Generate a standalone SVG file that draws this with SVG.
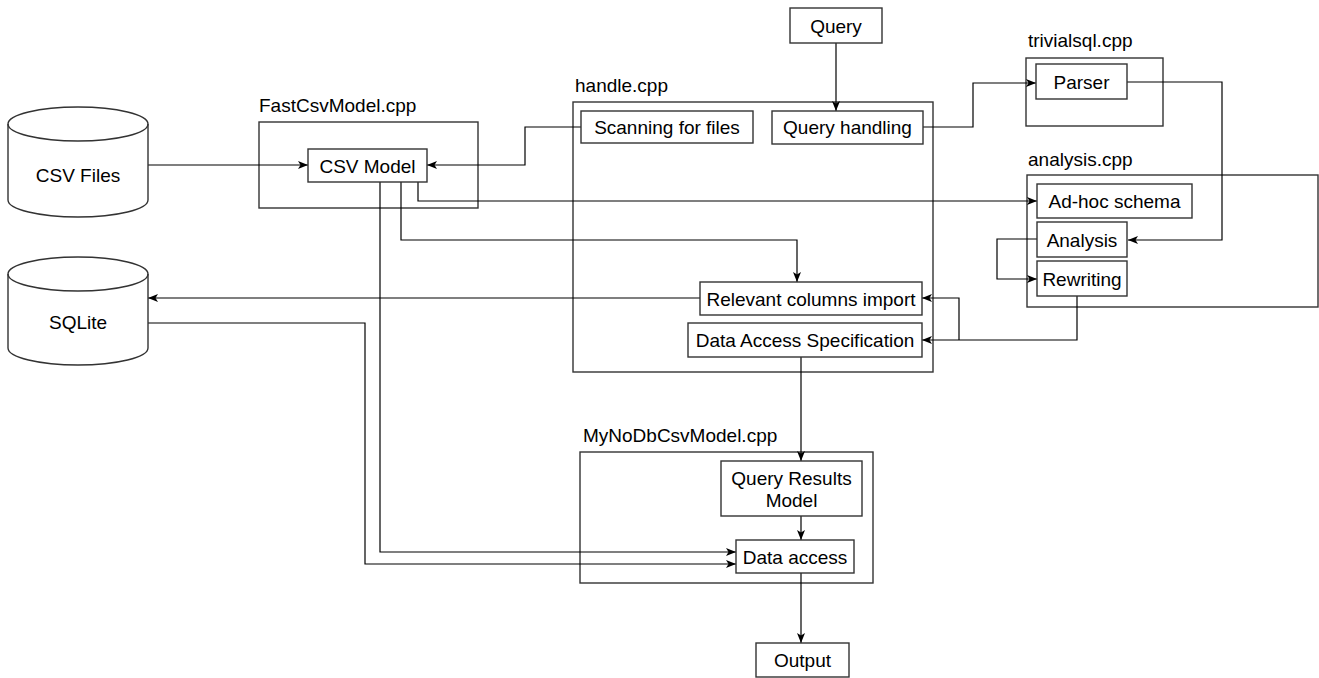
<svg xmlns="http://www.w3.org/2000/svg" width="1319" height="678" viewBox="0 0 1319 678">
<style>
text{font-family:"Liberation Sans",Arial,sans-serif;font-size:19px;fill:#000}
.c{text-anchor:middle}
.box{fill:#fff;stroke:#333;stroke-width:1.4}
.grp{fill:none;stroke:#333;stroke-width:1.4}
.edge{fill:none;stroke:#000;stroke-width:1.2}
.arr{marker-end:url(#ah)}
</style>
<defs>
<marker id="ah" viewBox="0 0 10 8" refX="10" refY="4" markerWidth="10" markerHeight="8" markerUnits="userSpaceOnUse" orient="auto">
<path d="M0,0 L10,4 L0,8 L2.5,4 Z" fill="#000"/>
</marker>
</defs>
<rect width="1319" height="678" fill="#fff"/>

<g id="fastcsvmodel-cpp">
<rect class="grp" x="259" y="122" width="219" height="86"/>
<text x="259" y="112">FastCsvModel.cpp</text>
</g>
<g id="handle-cpp">
<rect class="grp" x="573" y="102" width="360" height="270"/>
<text x="575" y="92">handle.cpp</text>
</g>
<g id="trivialsql-cpp">
<rect class="grp" x="1026" y="58" width="137" height="68"/>
<text x="1028" y="47">trivialsql.cpp</text>
</g>
<g id="analysis-cpp">
<rect class="grp" x="1027" y="175" width="291" height="132"/>
<text x="1028" y="166">analysis.cpp</text>
</g>
<g id="mynodbcsvmodel-cpp">
<rect class="grp" x="580" y="452" width="293" height="131"/>
<text x="583" y="442">MyNoDbCsvModel.cpp</text>
</g>

<g id="edges">
<path class="edge arr" d="M148,165 H308"/>
<path class="edge arr" d="M581,127 H525 V165 H427"/>
<path class="edge arr" d="M836,43 V111"/>
<path class="edge arr" d="M923,127 H973 V83 H1036"/>
<path class="edge arr" d="M418,182 V201 H1037"/>
<path class="edge arr" d="M401,182 V240 H797 V282"/>
<path class="edge arr" d="M1127,82 H1222 V240 H1128"/>
<path class="edge arr" d="M1037,239 H997 V279 H1037"/>
<path class="edge arr" d="M1077,296 V340 H922"/>
<path class="edge arr" d="M959,340 V298 H922"/>
<path class="edge arr" d="M700,298 H148"/>
<path class="edge arr" d="M148,323 H365 V564 H736"/>
<path class="edge arr" d="M380,182 V552 H736"/>
<path class="edge arr" d="M801,357 V461"/>
<path class="edge arr" d="M801,516 V540"/>
<path class="edge arr" d="M801,573 V643"/>
</g>

<g id="csv-files">
<path class="box" d="M8,124 A70,17 0 0 1 148,124 V200 A70,17 0 0 1 8,200 Z"/>
<path class="grp" d="M8,124 A70,17 0 0 0 148,124"/>
<text class="c" x="78" y="182">CSV Files</text>
</g>
<g id="sqlite">
<path class="box" d="M8,274 A70,17 0 0 1 148,274 V348 A70,17 0 0 1 8,348 Z"/>
<path class="grp" d="M8,274 A70,17 0 0 0 148,274"/>
<text class="c" x="78" y="329">SQLite</text>
</g>
<g id="csv-model">
<rect class="box" x="308" y="149" width="119" height="33"/>
<text class="c" x="367.5" y="172.5">CSV Model</text>
</g>
<g id="query">
<rect class="box" x="790" y="8" width="92" height="35"/>
<text class="c" x="836" y="32.5">Query</text>
</g>
<g id="scanning">
<rect class="box" x="581" y="111" width="172" height="32"/>
<text class="c" x="667" y="134">Scanning for files</text>
</g>
<g id="query-handling">
<rect class="box" x="772" y="111" width="151" height="33"/>
<text class="c" x="847.5" y="134">Query handling</text>
</g>
<g id="parser">
<rect class="box" x="1036" y="64" width="91" height="35"/>
<text class="c" x="1081.5" y="88.5">Parser</text>
</g>
<g id="adhoc-schema">
<rect class="box" x="1037" y="184" width="155" height="34"/>
<text class="c" x="1114.5" y="208">Ad-hoc schema</text>
</g>
<g id="analysis">
<rect class="box" x="1037" y="222" width="90" height="35"/>
<text class="c" x="1082" y="246.5">Analysis</text>
</g>
<g id="rewriting">
<rect class="box" x="1037" y="261" width="90" height="35"/>
<text class="c" x="1082" y="285.5">Rewriting</text>
</g>
<g id="relevant-columns-import">
<rect class="box" x="700" y="282" width="222" height="33"/>
<text class="c" x="811" y="305.5">Relevant columns import</text>
</g>
<g id="data-access-spec">
<rect class="box" x="688" y="323" width="234" height="34"/>
<text class="c" x="805" y="347">Data Access Specification</text>
</g>
<g id="query-results-model">
<rect class="box" x="721" y="461" width="141" height="55"/>
<text class="c" x="791.5" y="485">Query Results</text>
<text class="c" x="791.5" y="507">Model</text>
</g>
<g id="data-access">
<rect class="box" x="736" y="540" width="118" height="33"/>
<text class="c" x="795" y="563.5">Data access</text>
</g>
<g id="output">
<rect class="box" x="756" y="643" width="93" height="34"/>
<text class="c" x="802.5" y="667">Output</text>
</g>
</svg>
